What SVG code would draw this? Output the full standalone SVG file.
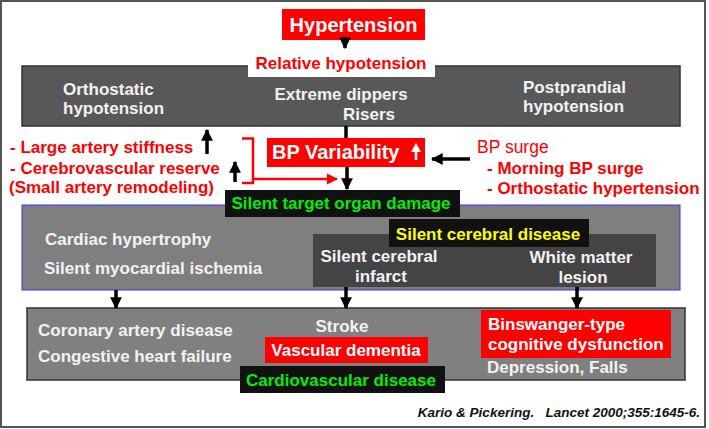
<svg xmlns="http://www.w3.org/2000/svg" width="709" height="429" viewBox="0 0 709 429">
<defs>
<style>
text{font-family:"Liberation Sans",Arial,sans-serif;font-weight:bold;font-size:17px}
.w{fill:#f2f2f2}
.r{fill:#ff0000}
.g{fill:#00ee00}
.y{fill:#ffff00}
.ln{stroke:#000;stroke-width:3.5;fill:none}
.c{text-anchor:middle}
</style>
<marker id="ah" viewBox="0 0 10 10" refX="9" refY="5" markerWidth="3.4" markerHeight="3.4" orient="auto" markerUnits="strokeWidth"><path d="M0,0L10,5L0,10Z" fill="#000"/></marker>
<marker id="ahr" viewBox="0 0 10 10" refX="9" refY="5" markerWidth="4.5" markerHeight="4.5" orient="auto" markerUnits="strokeWidth"><path d="M0,0L10,5L0,10Z" fill="#ff0000"/></marker>
</defs>
<rect x="0" y="0" width="709" height="429" fill="#fff"/>
<rect x="1" y="1" width="704" height="426" fill="#fff" stroke="#555" stroke-width="2"/>

<g id="top-box">
<rect x="22" y="66" width="658" height="60" fill="#585858" stroke="#333" stroke-width="1.5"/>
<text class="w" x="63" y="95">Orthostatic</text>
<text class="w" x="63" y="114">hypotension</text>
<text class="w" x="341" y="100" text-anchor="middle">Extreme dippers</text>
<text class="w" x="343" y="120">Risers</text>
<text class="w" x="523" y="93">Postprandial</text>
<text class="w" x="523" y="112">hypotension</text>
</g>

<g id="hypertension">
<rect x="282" y="9" width="143" height="31" fill="#ff0000"/>
<text x="353.5" y="32" class="c" fill="#fff" style="font-size:20px">Hypertension</text>
</g>

<g id="relative-hypotension">
<rect x="248" y="45" width="187" height="32" fill="#fff"/>
<text class="r c" x="341" y="69">Relative hypotension</text>
</g>

<g id="bp-variability">
<rect x="267" y="138" width="158" height="29" fill="#ff0000"/>
<text x="272" y="159" fill="#fff" style="font-size:20px">BP Variability</text>
<line x1="416" y1="160" x2="416" y2="151" stroke="#fff" stroke-width="2.5"/>
<path d="M411,152L416,143L421,152Z" fill="#fff"/>
</g>

<g id="left-factors">
<text class="r" x="10" y="153">- Large artery stiffness</text>
<text class="r" x="10" y="174">- Cerebrovascular reserve</text>
<text class="r" x="9" y="193">(Small artery remodeling)</text>
</g>

<g id="bp-surge">
<text x="477" y="153" fill="#ff0000" style="font-weight:normal;font-size:17.5px">BP surge</text>
<text class="r" x="487" y="174">- Morning BP surge</text>
<text class="r" x="487" y="194">- Orthostatic hypertension</text>
</g>

<g id="middle-box">
<rect x="22" y="205" width="658" height="85" fill="#7f7f7f" stroke="#3333ff" stroke-width="1"/>
<text class="w" x="45" y="245">Cardiac hypertrophy</text>
<text class="w" x="44" y="274">Silent myocardial ischemia</text>
</g>

<g id="silent-target">
<rect x="225" y="190" width="235" height="27" fill="#111"/>
<text class="g c" x="341" y="209">Silent target organ damage</text>
</g>

<g id="cerebral-box">
<rect x="313" y="234" width="343" height="53" fill="#444"/>
<text class="w c" x="379" y="262">Silent cerebral</text>
<text class="w c" x="381" y="282">infarct</text>
<text class="w c" x="581" y="263">White matter</text>
<text class="w c" x="583" y="283">lesion</text>
</g>

<g id="silent-cerebral">
<rect x="389" y="219" width="200" height="28" fill="#111"/>
<text class="y c" x="488" y="240">Silent cerebral disease</text>
</g>

<g id="bottom-box">
<rect x="27" y="308" width="658" height="72" fill="#808080" stroke="#333" stroke-width="1.5"/>
<text class="w" x="38" y="336">Coronary artery disease</text>
<text class="w" x="38" y="362">Congestive heart failure</text>
<text class="w c" x="342" y="332">Stroke</text>
</g>

<g id="vascular-dementia">
<rect x="265" y="337" width="163" height="26" fill="#ff0000"/>
<text class="c" x="346" y="356" fill="#fff">Vascular dementia</text>
</g>

<g id="cardiovascular">
<rect x="240" y="366" width="205" height="27" fill="#111"/>
<text class="g c" x="341" y="386">Cardiovascular disease</text>
</g>

<g id="binswanger">
<rect x="481" y="310" width="190" height="48" fill="#ff0000"/>
<text x="488" y="330" fill="#fff">Binswanger-type</text>
<text x="488" y="350" fill="#fff">cognitive dysfunction</text>
<text class="w" x="487" y="373">Depression, Falls</text>
</g>

<g id="connectors">
<line class="ln" x1="345" y1="40" x2="345" y2="48" marker-end="url(#ah)"/>
<line class="ln" x1="346" y1="126" x2="346" y2="138"/>
<line class="ln" x1="347" y1="167" x2="347" y2="189" marker-end="url(#ah)"/>
<line class="ln" x1="207" y1="154" x2="207" y2="130" marker-end="url(#ah)"/>
<line class="ln" x1="235" y1="182" x2="235" y2="162" marker-end="url(#ah)"/>
<line class="ln" x1="470" y1="159" x2="432" y2="159" marker-end="url(#ah)"/>
<path d="M242,138.5H253V183H242" fill="none" stroke="#ff0000" stroke-width="2.5"/>
<line x1="253" y1="179" x2="337" y2="179" stroke="#ff0000" stroke-width="2.5" marker-end="url(#ahr)"/>
<line class="ln" x1="116" y1="290" x2="116" y2="308" marker-end="url(#ah)"/>
<line class="ln" x1="346" y1="287" x2="346" y2="308" marker-end="url(#ah)"/>
<line class="ln" x1="577" y1="287" x2="577" y2="308" marker-end="url(#ah)"/>
</g>

<text x="700" y="417" text-anchor="end" style="font-size:13.5px;font-style:italic;white-space:pre" fill="#111" xml:space="preserve">Kario &amp; Pickering.   Lancet 2000;355:1645-6.</text>
</svg>
